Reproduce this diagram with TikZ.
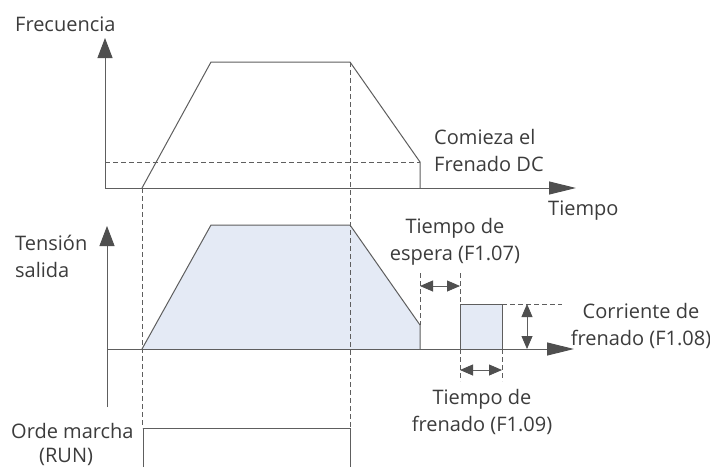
\documentclass[tikz,border=0pt]{standalone}
\usepackage{fontspec}
\setmainfont{Open Sans}
\usetikzlibrary{arrows.meta}
\definecolor{ln}{HTML}{5E5E5E}
\definecolor{tx}{HTML}{3C3C3C}
\definecolor{ah}{HTML}{4F4F4F}
\definecolor{fillb}{HTML}{E4EAF5}
\begin{document}
\begin{tikzpicture}[x=1pt,y=-1pt,
  lbl/.style={text=tx,font=\fontsize{20}{27}\selectfont,inner sep=0pt,align=center},
  ax/.style={draw=ln,line width=1pt},
  dsh/.style={draw=ln,line width=0.8pt,dash pattern=on 5pt off 3pt},
  vaxis/.style={ax,-{Triangle[length=20pt,width=15pt,fill=ah,color=ah]}},
  haxis/.style={ax,-{Triangle[length=27pt,width=13pt,fill=ah,color=ah]}},
  dbl/.style={draw=ln,line width=0.8pt,{Triangle[length=13pt,width=11pt,fill=ah,color=ah]}-{Triangle[length=13pt,width=11pt,fill=ah,color=ah]}}]
\useasboundingbox (0,0) rectangle (710,467);
\fill[white] (0,0) rectangle (710,467);
% coordinates
\coordinate (o1) at (105,188);
\coordinate (t1) at (105,38);
\coordinate (e1) at (576,188);
\coordinate (o2) at (107,349);
\coordinate (t2) at (107,226);
\coordinate (e2) at (574,349);
% top graph
\draw[dsh] (105,162) -- (420,162);
\draw[vaxis] (o1) -- (t1);
\draw[haxis] (o1) -- (e1);
\draw[ax] (142,188) -- (211,62) -- (350,62) -- (420,162) -- (420,188);
% bottom graph
\fill[fillb] (142,349) -- (211,225) -- (350,225) -- (420,325) -- (420,349) -- cycle;
\fill[fillb] (460,304) rectangle (502,349);
\draw[ax] (142,349) -- (211,225) -- (350,225) -- (420,325) -- (420,349);
\draw[ax] (460,349) -- (460,304) -- (502,304) -- (502,349);
\draw[vaxis] (107,407) -- (t2);
\draw[haxis] (o2) -- (e2);
\draw[dsh] (502,304) -- (562,304);
% dashed guides
\draw[dsh] (142,188) -- (142,428);
\draw[dsh] (350,62) -- (350,428);
\draw[dsh] (420,273) -- (420,325);
\draw[dsh] (460,273) -- (460,304);
\draw[dsh] (460,349) -- (460,381);
\draw[dsh] (502,349) -- (502,381);
% RUN signal
\draw[ax] (143,467) -- (143,428) -- (350,428) -- (350,467);
% dimension arrows
\coordinate (a1) at (420,286);
\coordinate (a2) at (460,286);
\coordinate (b1) at (460,370);
\coordinate (b2) at (502,370);
\coordinate (c1) at (527,304);
\coordinate (c2) at (527,349);
\draw[dbl] (a1) -- (a2);
\draw[dbl] (b1) -- (b2);
\draw[dbl] (c1) -- (c2);
% labels
\node[lbl,anchor=west] (frec) at (15,24) {Frecuencia};
\node[lbl,anchor=west,align=left] (com) at (434,150) {Comieza el\\Frenado DC};
\node[lbl,anchor=west] (tiem) at (548,211) {Tiempo};
\node[lbl,anchor=west,align=left] (ten) at (15,256) {Tensión\\salida};
\node[lbl] (esp) at (455,242) {Tiempo de\\espera (F1.07)};
\node[lbl] (cor) at (641,326) {Corriente de\\frenado (F1.08)};
\node[lbl] (fre) at (482,412) {Tiempo de\\frenado (F1.09)};
\node[lbl,anchor=base west] (run1) at (11,438) {Orde marcha};
\node[lbl,anchor=base west] (run2) at (39,462) {(RUN)};
\end{tikzpicture}
\end{document}
